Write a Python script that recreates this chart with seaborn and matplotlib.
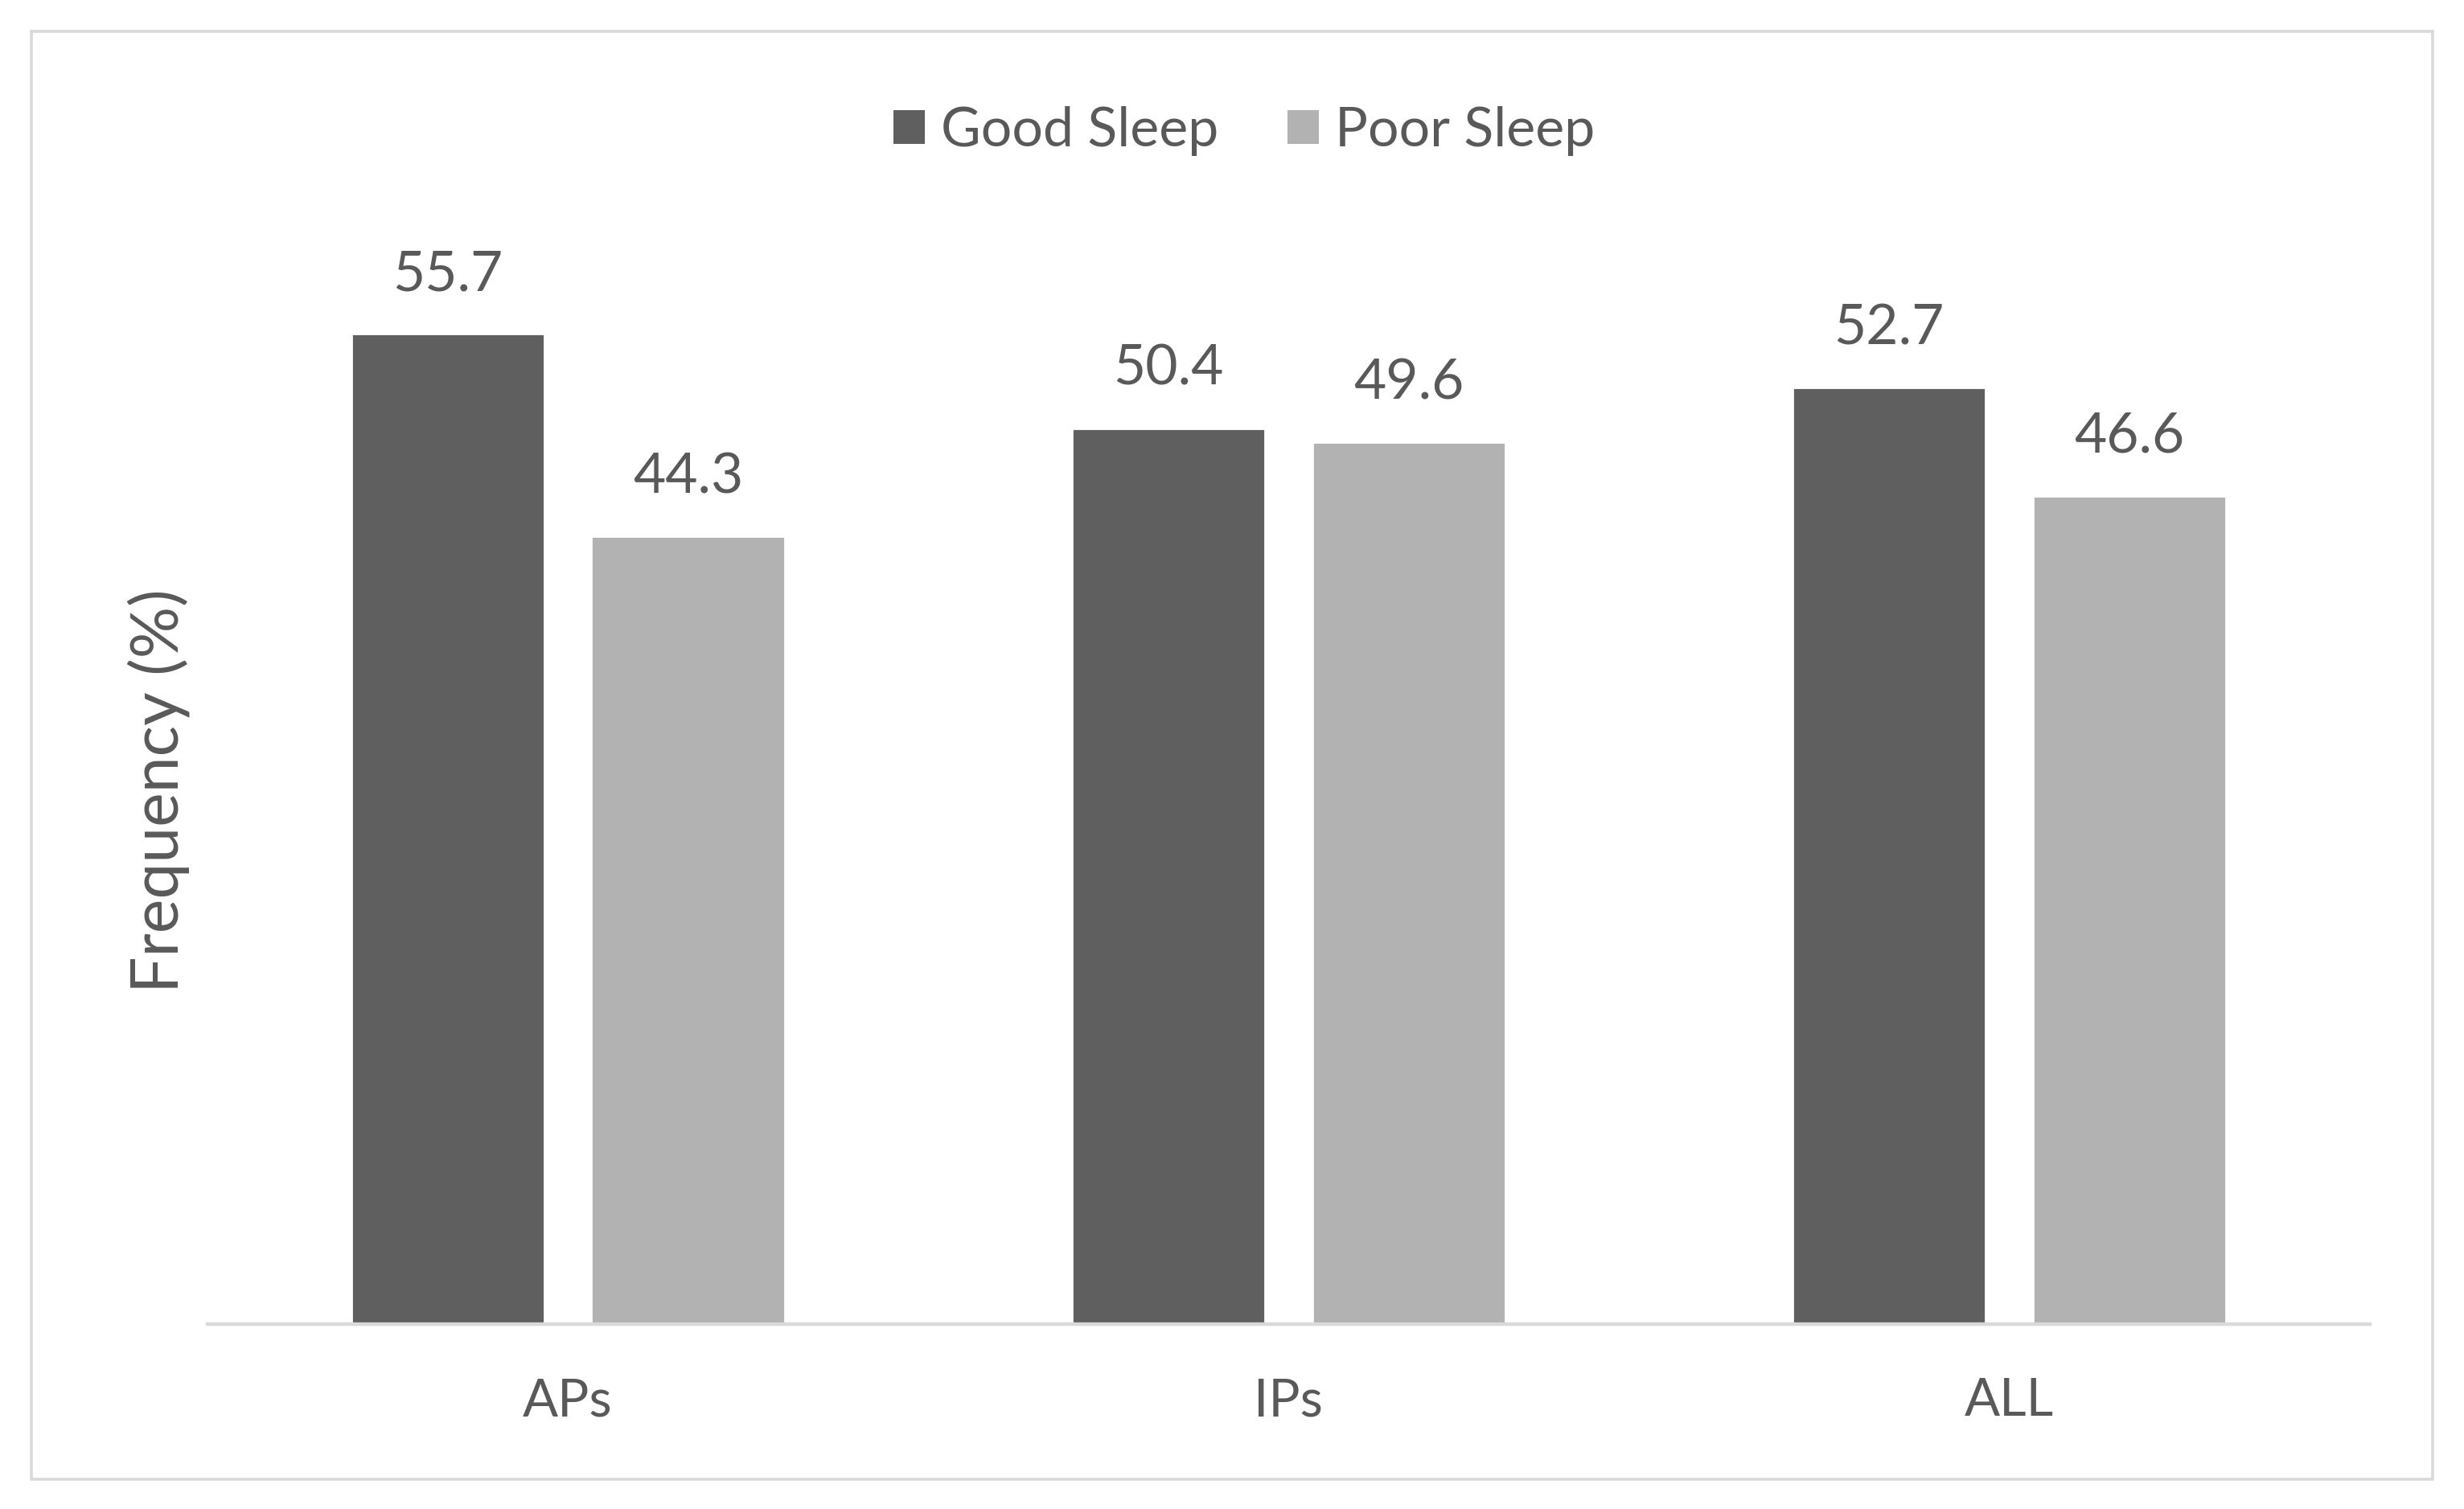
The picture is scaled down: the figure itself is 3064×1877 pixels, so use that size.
import matplotlib
matplotlib.use("Agg")
import matplotlib.pyplot as plt
import seaborn as sns
import pandas as pd
from matplotlib.patches import Rectangle, Patch

categories = ["APs", "IPs", "ALL"]
series_names = ["Good Sleep", "Poor Sleep"]
good_sleep = [55.7, 50.4, 52.7]
poor_sleep = [44.3, 49.6, 46.6]
colors = ["#5f5f5f", "#b2b2b2"]

df = pd.DataFrame({
    "group": categories * 2,
    "sleep": [series_names[0]] * 3 + [series_names[1]] * 3,
    "value": good_sleep + poor_sleep,
})

sns.set_theme(style="white")
plt.rcParams["font.family"] = ["Lato", "DejaVu Sans"]
text_color = "#595959"

fig = plt.figure(figsize=(15.32, 9.385), dpi=200)
ax = fig.add_axes([0.0842, 0.1228, 0.9617 - 0.0842, 0.8293 - 0.1228])

sns.barplot(data=df, x="group", y="value", hue="sleep", order=categories,
            hue_order=series_names, palette=colors, width=0.667, gap=0.196,
            saturation=1, legend=False, ax=ax)

ax.set_xlim(-0.5, 2.5)
ax.set_ylim(0, 60)
for c in ax.containers:
    ax.bar_label(c, fmt="%.1f", padding=15, fontsize=25, color=text_color, clip_on=False)

for s in ["top", "right", "left"]:
    ax.spines[s].set_visible(False)
ax.spines["bottom"].set_color("#d9d9d9")
ax.spines["bottom"].set_linewidth(1.6)
ax.set_yticks([])
ax.tick_params(axis="x", length=0, labelsize=23.5, labelcolor=text_color, pad=24)
ax.set_xlabel("")
ax.set_ylabel("Frequency (%)", fontsize=29, color=text_color, labelpad=8)

handles = [Patch(facecolor=colors[i], edgecolor="none", label=series_names[i]) for i in range(2)]
fig.legend(handles=handles, loc="center", bbox_to_anchor=(0.505, 0.913), ncol=2,
           frameon=False, fontsize=24.5, labelcolor=text_color, handlelength=0.57,
           handleheight=0.57, handletextpad=0.3, columnspacing=1.26)

border = Rectangle((20 / 1568, 1 - 942 / 961), (1548 - 20) / 1568, (942 - 20) / 961,
                   transform=fig.transFigure, fill=False, edgecolor="#d9d9d9", linewidth=1.3)
fig.patches.append(border)

fig.savefig("out.png", dpi=200, facecolor="white")
